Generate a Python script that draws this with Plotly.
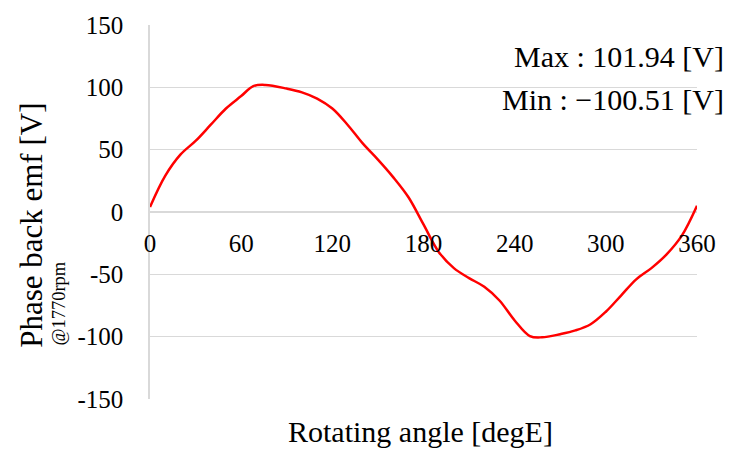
import plotly.graph_objects as go

# Data
angle_deg = [0, 10, 20, 30, 40, 50, 60, 68, 76, 90, 100, 110, 120, 130, 140, 150, 160, 170,
             180, 190, 200, 210, 220, 230, 240, 250, 258, 270, 280, 290, 300, 310, 320, 330,
             340, 350, 360]
emf_v = [4, 29, 46, 57, 70, 83, 93, 101, 101.94, 99, 96, 91, 83, 70, 55, 42, 28, 12,
         -10, -32, -45, -53, -60, -71, -87, -99.5, -100.51, -98, -95, -90, -80, -67, -54, -45,
         -34, -19, 5]

x_ticks = [0, 60, 120, 180, 240, 300, 360]
y_ticks = [-150, -100, -50, 0, 50, 100, 150]
y_tick_text = ["-150", "-100", "-50", "0", "50", "100", "150"]

x_title = "Rotating angle [degE]"
y_title = "Phase back emf [V]"
y_subtitle = "@1770rpm"
max_text = "Max : 101.94 [V]"
min_text = "Min : \u2212100.51 [V]"

FONT = "Liberation Serif, Times New Roman, serif"
GRID = "#d9d9d9"

fig = go.Figure()
fig.add_trace(go.Scatter(
    x=angle_deg, y=emf_v, mode="lines",
    line=dict(color="#ff0000", width=2.5, shape="spline", smoothing=1.0),
    hoverinfo="skip", showlegend=False,
))

fig.update_layout(
    width=729, height=450,
    margin=dict(l=150, r=32, t=21, b=51),
    paper_bgcolor="white", plot_bgcolor="white",
    font=dict(family=FONT, color="#000000"),
    xaxis=dict(
        range=[0, 360], tickvals=x_ticks, showgrid=False, zeroline=False,
        showline=False, anchor="free", position=0.5,
        ticks="outside", ticklen=9, tickcolor="rgba(0,0,0,0)",
        tickfont=dict(size=25, family=FONT, color="#000000"),
    ),
    yaxis=dict(
        range=[-150, 150], tickvals=y_ticks, ticktext=y_tick_text,
        showgrid=True, gridcolor=GRID, gridwidth=1,
        zeroline=True, zerolinecolor=GRID, zerolinewidth=1.5,
        showline=True, linecolor=GRID, linewidth=1.5,
        ticks="outside", ticklen=20, tickcolor="rgba(0,0,0,0)",
        tickfont=dict(size=25, family=FONT, color="#000000"),
    ),
    annotations=[
        dict(text=x_title, xref="paper", yref="paper", x=0.4954, y=-0.088,
             xanchor="center", yanchor="middle", showarrow=False,
             font=dict(size=30, family=FONT, color="#000000")),
        dict(text=y_title, xref="paper", yref="paper", x=-0.2157, y=0.463,
             xanchor="center", yanchor="middle", textangle=-90, showarrow=False,
             font=dict(size=31, family=FONT, color="#000000")),
        dict(text=y_subtitle, xref="paper", yref="paper", x=-0.168, y=0.2553,
             xanchor="center", yanchor="middle", textangle=-90, showarrow=False,
             font=dict(size=18.5, family=FONT, color="#000000")),
        dict(text=max_text, xref="paper", yref="paper", x=1.053, y=0.915,
             xanchor="right", yanchor="middle", showarrow=False,
             font=dict(size=30, family=FONT, color="#000000")),
        dict(text=min_text, xref="paper", yref="paper", x=1.053, y=0.801,
             xanchor="right", yanchor="middle", showarrow=False,
             font=dict(size=30, family=FONT, color="#000000")),
    ],
)

fig.write_html("out.html")
